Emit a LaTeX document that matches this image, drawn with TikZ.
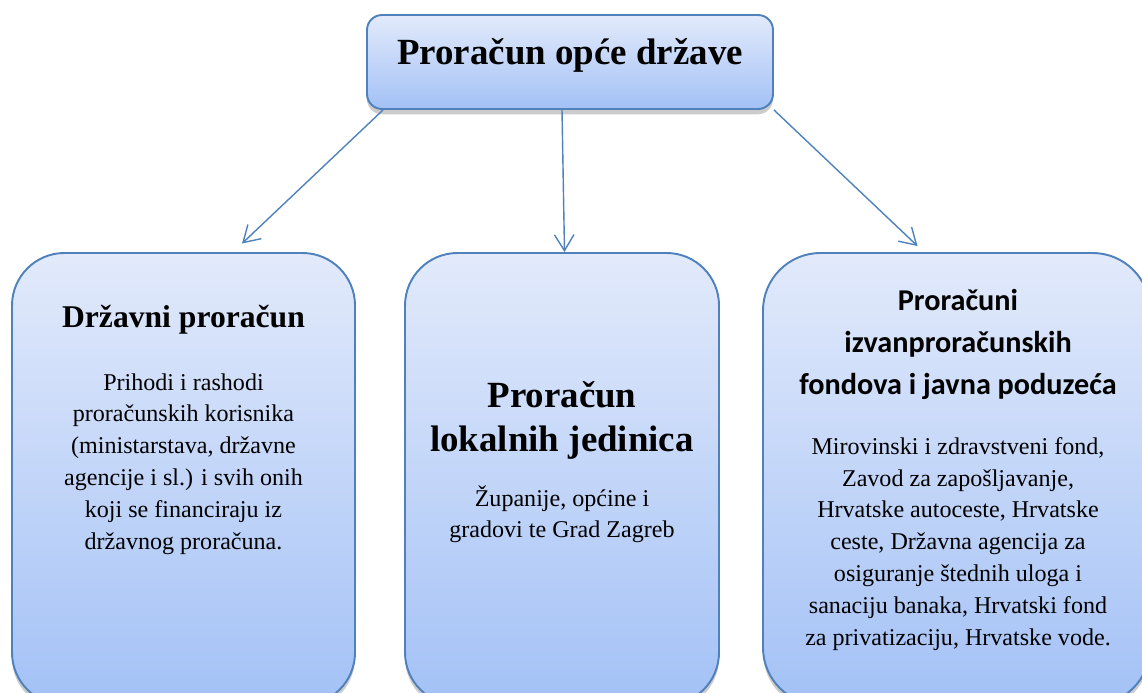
\documentclass[tikz,border=0pt]{standalone}
\usepackage{fontspec}
\setmainfont{Liberation Serif}
\newfontfamily\headsans{Carlito}
\usetikzlibrary{shadows,calc,arrows.meta}

\definecolor{frameblue}{RGB}{79,129,189}
\definecolor{boxtop}{RGB}{226,234,251}
\definecolor{boxbottom}{RGB}{163,193,246}

\tikzset{
  budgetbox/.style={draw=frameblue, line width=1.1pt,
                    top color=boxtop, bottom color=boxbottom,
                    drop shadow={opacity=.4,shadow xshift=0pt,shadow yshift=-3pt},
                    inner sep=0pt},
  flowarrow/.style={draw=frameblue, line width=0.8pt,
                    -{Straight Barb[length=3.2mm,width=3.9mm]}},
  bodytext/.style={align=center, inner sep=0pt, font=\fontsize{13.7}{18.1}\selectfont},
  headtext/.style={align=center, inner sep=0pt, font=\bfseries\fontsize{18}{22}\selectfont}
}

\begin{document}
\begin{tikzpicture}

\pgfmathsetmacro{\boxtopy}{-5.06}
\pgfmathsetmacro{\boxheight}{9.04}
\pgfmathsetmacro{\boxmidy}{\boxtopy-\boxheight/2}

\useasboundingbox (0,0) rectangle (22.84,-13.86);
\clip (0,0) rectangle (22.84,-13.86);

% TOP BOX
\node(general)[budgetbox, rounded corners=0.3cm,
			minimum width=8.12cm,
			minimum height=1.88cm] at (11.4,-1.24) {};
\node(generaltitle)[anchor=base, inner sep=0pt,
			font=\bfseries\fontsize{21}{25}\selectfont] at (11.4,-1.30) {Proračun opće države};

% BOTTOM BOXES
%left
\node(state)[budgetbox, rounded corners=1.05cm,
			minimum width=6.86cm,
			minimum height=\boxheight cm] at (3.67,\boxmidy) {};
\node(statehead)[headtext, anchor=base] at (3.67,-6.54) {Državni proračun};
\node(statebody)[bodytext, anchor=north] at (3.67,-7.46)
			{Prihodi i rashodi\\ proračunskih korisnika\\ (ministarstava, državne\\
			 agencije i sl.) i svih onih\\ koji se financiraju iz\\ državnog proračuna.};

%middle
\node(local)[budgetbox, rounded corners=1.05cm,
			minimum width=6.28cm,
			minimum height=\boxheight cm] at (11.24,\boxmidy) {};
\node(localhead)[headtext, anchor=north,
			font=\bfseries\fontsize{21}{25}\selectfont] at (11.24,-7.63) {Proračun\\ lokalnih jedinica};
\node(localbody)[bodytext, anchor=north] at (11.24,-9.70)
			{Županije, općine i\\ gradovi te Grad Zagreb};

%right
\node(funds)[budgetbox, rounded corners=1.15cm,
			minimum width=7.74cm,
			minimum height=\boxheight cm] at (19.13,\boxmidy) {};
\node(fundshead)[headtext, anchor=north,
			font=\headsans\bfseries\fontsize{17.2}{23.8}\selectfont] at (19.16,-5.78)
			{Proračuni\\ izvanproračunskih\\ fondova i javna poduzeća};
\node(fundsbody)[bodytext, anchor=north] at (19.16,-8.74)
			{Mirovinski i zdravstveni fond,\\ Zavod za zapošljavanje,\\ Hrvatske autoceste, Hrvatske\\
			 ceste, Državna agencija za\\ osiguranje štednih uloga i\\ sanaciju banaka, Hrvatski fond\\
			 za privatizaciju, Hrvatske vode.};

% ARROWS
\draw[flowarrow] ($(general.south west)+(0.34,0)$) -- ($(state.north)+(1.17,0.17)$);
\draw[flowarrow] ($(general.south)+(-0.16,0)$) -- ($(local.north)+(0.05,0)$);
\draw[flowarrow] (general.south east) -- ($(funds.north)+(-0.78,0.12)$);

\end{tikzpicture}
\end{document}
